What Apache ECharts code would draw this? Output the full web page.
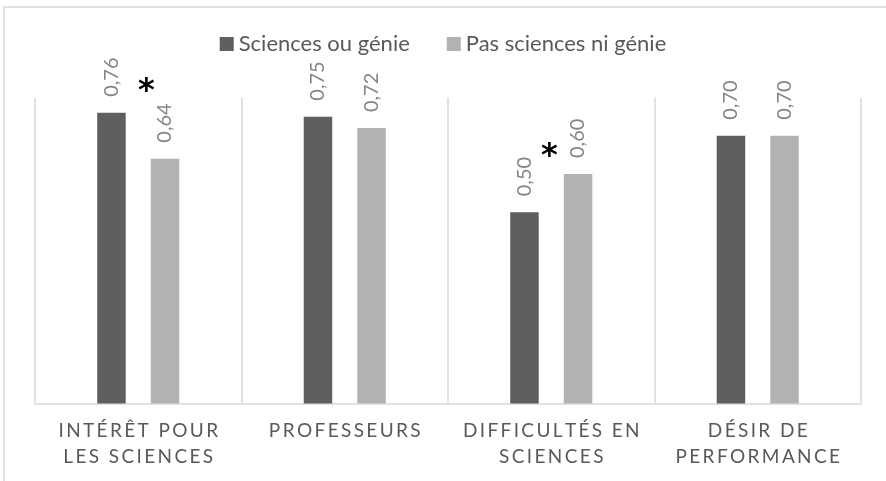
<!DOCTYPE html>
<html>
<head>
<meta charset="utf-8">
<script src="https://cdn.jsdelivr.net/npm/echarts@6/dist/echarts.min.js"></script>
<style>
  html, body { margin: 0; padding: 0; background: #ffffff; }
  #chart { width: 886px; height: 481px; }
</style>
</head>
<body>
<div id="chart"></div>
<script>
// Catégories (deux lignes chacune) et moyennes par groupe
const categories = [
  'INTÉRÊT POUR\nLES SCIENCES',
  'PROFESSEURS',
  'DIFFICULTÉS EN\nSCIENCES',
  'DÉSIR DE\nPERFORMANCE'
];
const seriesNames = ['Sciences ou génie', 'Pas sciences ni génie'];
const sciencesValues = [0.76, 0.75, 0.50, 0.70];
const autresValues = [0.64, 0.72, 0.60, 0.70];
// Différences significatives : catégorie et hauteur de l'astérisque
const significance = [
  { category: 0, level: 0.833, dx: 8 },
  { category: 2, level: 0.663, dx: -2 }
];

const FONT = 'Lato';
const spaced = s => s.split('\n').map(l => l.split('').join('\u2009')).join('\n');

const chart = echarts.init(document.getElementById('chart'), null, { renderer: 'canvas' });

const barLabel = {
  show: true,
  position: 'top',
  rotate: 90,
  align: 'left',
  verticalAlign: 'middle',
  distance: 16,
  color: '#858585',
  fontFamily: FONT,
  fontSize: 20,
  formatter: p => p.value.toFixed(2).replace('.', ',')
};

const frame = {
  id: 'frame',
  type: 'rect',
  z: -1,
  shape: { x: 4, y: 7, width: 900, height: 500 },
  style: { fill: 'none', stroke: '#d9d9d9', lineWidth: 1.5 },
  silent: true
};

chart.setOption({
  animation: false,
  backgroundColor: '#ffffff',
  graphic: [frame],
  legend: {
    top: 28,
    left: 'center',
    itemWidth: 14,
    itemHeight: 14,
    itemGap: 37,
    icon: 'rect',
    textStyle: { fontFamily: FONT, fontSize: 22, color: '#595959' },
    data: seriesNames
  },
  grid: { left: 35, right: 25, top: 97.5, bottom: 77.5, containLabel: false },
  xAxis: {
    type: 'category',
    data: categories,
    axisLine: { lineStyle: { color: '#d9d9d9', width: 1.5 } },
    axisTick: { show: false },
    splitLine: { show: true, lineStyle: { color: '#d9d9d9', width: 1.5 } },
    axisLabel: {
      margin: 14,
      color: '#595959',
      fontFamily: FONT,
      fontSize: 19,
      lineHeight: 26,
      interval: 0,
      formatter: v => spaced(v)
    }
  },
  yAxis: {
    type: 'value',
    min: 0,
    max: 0.8,
    show: false,
    splitLine: { show: false }
  },
  series: [
    {
      name: seriesNames[0],
      type: 'bar',
      data: sciencesValues,
      barWidth: 28.5,
      barGap: '88%',
      itemStyle: { color: '#5f5f5f' },
      label: barLabel
    },
    {
      name: seriesNames[1],
      type: 'bar',
      data: autresValues,
      barWidth: 28.5,
      barGap: '88%',
      itemStyle: { color: '#b2b2b2' },
      label: barLabel
    }
  ]
});

// Astérisques de signification, positionnés avec les échelles du graphique
const stars = significance.map((s, i) => {
  const pt = chart.convertToPixel({ gridIndex: 0 }, [s.category, s.level]);
  return {
    id: 'sig' + i,
    type: 'text',
    x: pt[0] + s.dx,
    y: pt[1] + 7,   // le glyphe « * » est haut dans sa boîte
    silent: true,
    style: {
      text: '*',
      fill: '#000000',
      fontFamily: 'DejaVu Sans',
      fontWeight: 'bold',
      fontSize: 32,
      align: 'center',
      verticalAlign: 'middle'
    }
  };
});
chart.setOption({ graphic: [frame].concat(stars) });
</script>
</body>
</html>
